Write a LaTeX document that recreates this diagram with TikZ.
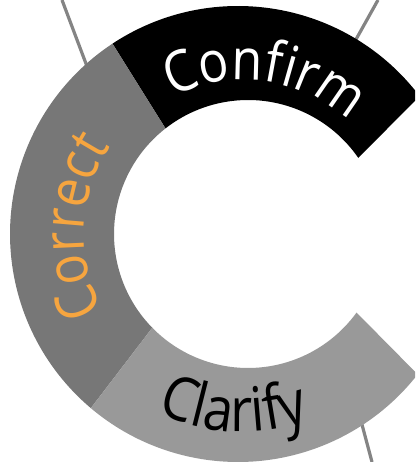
\documentclass[tikz,border=0pt]{standalone}
\usepackage{fontspec}
\setmainfont{Open Sans}
\newfontfamily\ringfamily[FakeStretch=0.88]{Open Sans}
\usetikzlibrary{calc,decorations.text}

\definecolor{ringblack}{HTML}{000000}
\definecolor{ringdark}{HTML}{777777}
\definecolor{ringlight}{HTML}{999999}
\definecolor{wiregray}{HTML}{848484}
\definecolor{labelorange}{HTML}{F6A53F}
\newcommand{\ringfont}{\ringfamily\fontsize{57}{64}\selectfont}
\newcommand{\ringfontlow}{\ringfamily\fontsize{61}{68}\selectfont}

\tikzset{
	wire/.style={draw=wiregray, line width=3.2pt},
	ringtext/.style={decorate, decoration={text along path, text align=center, #1}},
}

\begin{document}
\begin{tikzpicture}[x=1pt, y=1pt]
			\clip (0,0) rectangle (415,462);

			\coordinate (oc) at (238,228);
			\coordinate (ic) at (248,228);
			\coordinate (tc) at (243,228);

			% connectors running in behind the ring
			\coordinate (w1a) at (62,462);  \coordinate (w1b) at (88,393);
			\coordinate (w2a) at (378,462); \coordinate (w2b) at (354,419);
			\coordinate (w3a) at (372,0);   \coordinate (w3b) at (360.5,43);
			\draw[wire] (w1a) -- (w1b);
			\draw[wire] (w2a) -- (w2b);
			\draw[wire] (w3a) -- (w3b);

			% the three parts of the C
			\fill[ringblack] ($(oc)+(123.4:228)$) arc[start angle=123.4, end angle=37.2, radius=228]
				-- ($(ic)+(34.6:134)$) arc[start angle=34.6, end angle=128, radius=134] -- cycle;
			\fill[ringdark] ($(oc)+(123.4:228)$) arc[start angle=123.4, end angle=229.8, radius=228]
				-- ($(ic)+(224.4:134)$) arc[start angle=224.4, end angle=128, radius=134] -- cycle;
			\fill[ringlight] ($(oc)+(229.8:228)$) arc[start angle=229.8, end angle=322, radius=228]
				-- ($(ic)+(324.1:134)$) arc[start angle=324.1, end angle=224.4, radius=134] -- cycle;

			\path[ringtext={text={|\ringfont|Confirm}, text color=white}]
				($(tc)+(130:154)$) arc[start angle=130, end angle=34, radius=154];
			\path[ringtext={text={|\ringfont|Correct}, text color=labelorange}]
				($(tc)+(230:159)$) arc[start angle=230, end angle=125, radius=159];
			\path[ringtext={text={|\ringfontlow|Clarify}, text color=black}]
				($(tc)+(221:198)$) arc[start angle=221, end angle=313, radius=198];
		\end{tikzpicture}
\end{document}
